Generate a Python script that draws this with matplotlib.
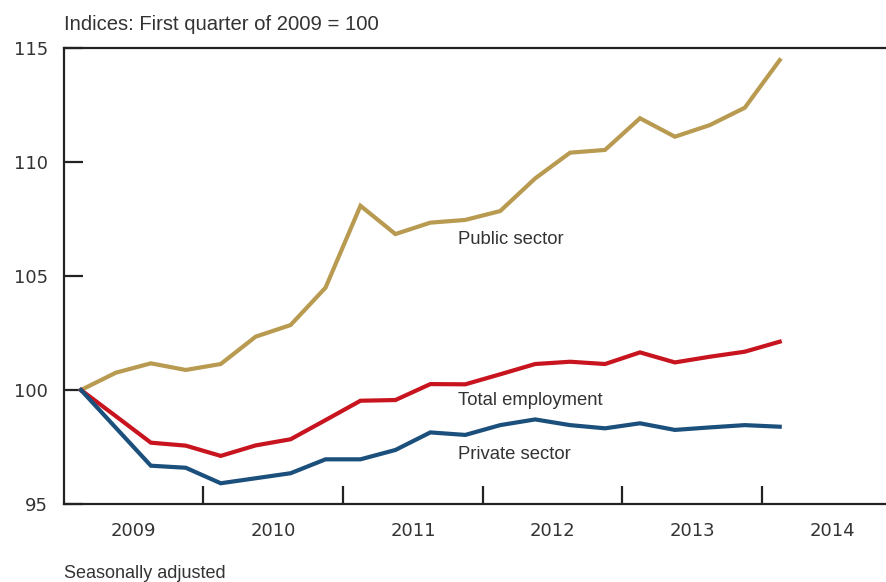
import matplotlib.pyplot as plt
import numpy as np

# Quarterly employment indices, 2009 Q1 to 2014 Q1 (2009 Q1 = 100)
quarters = ['2009Q1', '2009Q2', '2009Q3', '2009Q4',
            '2010Q1', '2010Q2', '2010Q3', '2010Q4',
            '2011Q1', '2011Q2', '2011Q3', '2011Q4',
            '2012Q1', '2012Q2', '2012Q3', '2012Q4',
            '2013Q1', '2013Q2', '2013Q3', '2013Q4',
            '2014Q1']
public_sector = [100.0, 100.76, 101.17, 100.88, 101.14, 102.34, 102.85, 104.49,
                 108.08, 106.84, 107.34, 107.46, 107.85, 109.28, 110.41, 110.53,
                 111.92, 111.11, 111.62, 112.38, 114.47]
total_employment = [100.0, 98.85, 97.69, 97.56, 97.11, 97.57, 97.84, 98.68,
                    99.53, 99.56, 100.26, 100.25, 100.69, 101.14, 101.24, 101.14,
                    101.65, 101.21, 101.46, 101.68, 102.12]
private_sector = [100.0, 98.34, 96.68, 96.59, 95.91, 96.13, 96.35, 96.96,
                  96.96, 97.37, 98.14, 98.03, 98.46, 98.71, 98.46, 98.32,
                  98.54, 98.25, 98.36, 98.46, 98.39]
years = [2009, 2010, 2011, 2012, 2013, 2014]
y_ticks = [95, 100, 105, 110, 115]

# place each quarter at the middle of its slot on a year axis
x = np.array([int(q[:4]) + (int(q[-1]) - 0.5) / 4 for q in quarters])

GOLD = '#b89a50'
RED = '#c8141e'
BLUE = '#1b4f7c'
TEXT = '#333333'
AXIS = '#222222'

plt.rcParams['font.family'] = ['Liberation Sans', 'DejaVu Sans']
NUM_FONT = 'DejaVu Sans'

fig = plt.figure(figsize=(8.87, 5.82), dpi=100)
ax = fig.add_axes([0.0716, 0.134, 0.9453, 0.7835])

ax.plot(x, public_sector, color=GOLD, linewidth=3.0, solid_joinstyle='miter')
ax.plot(x, total_employment, color=RED, linewidth=3.0, solid_joinstyle='miter')
ax.plot(x, private_sector, color=BLUE, linewidth=3.0, solid_joinstyle='miter')

ax.set_xlim(2009, 2015)
ax.set_ylim(95, 115)

# year boundaries as inward ticks, year names centred between them
ax.set_xticks(years[1:])
ax.set_xticklabels([])
ax.set_xticks([yr + 0.5 for yr in years], minor=True)
ax.set_xticklabels([str(yr) for yr in years], minor=True,
                   fontfamily=NUM_FONT, fontsize=13, color=TEXT)
ax.tick_params(axis='x', which='major', direction='in', length=13,
               width=1.6, color=AXIS)
ax.tick_params(axis='x', which='minor', length=0, pad=13)

ax.set_yticks(y_ticks)
ax.set_yticklabels([str(v) for v in y_ticks],
                   fontfamily=NUM_FONT, fontsize=13, color=TEXT)
ax.tick_params(axis='y', direction='in', length=14, width=1.6, color=AXIS,
               pad=11)

for side in ['left', 'top', 'bottom']:
    ax.spines[side].set_linewidth(1.6)
    ax.spines[side].set_color(AXIS)
ax.spines['right'].set_visible(False)

# series labels inside the plot
label_style = dict(fontsize=13.3, color=TEXT, va='center', ha='left')
ax.text(2011.82, 106.62, 'Public sector', **label_style)
ax.text(2011.82, 99.52, 'Total employment', **label_style)
ax.text(2011.82, 97.17, 'Private sector', **label_style)

fig.text(64 / 887, 1 - 24 / 582, 'Indices: First quarter of 2009 = 100',
         fontsize=14.6, color=TEXT, ha='left', va='center')
fig.text(64 / 887, 1 - 574 / 582, 'Seasonally adjusted',
         fontsize=13, color=TEXT, ha='left', va='center')

fig.savefig('out.png', dpi=100)
